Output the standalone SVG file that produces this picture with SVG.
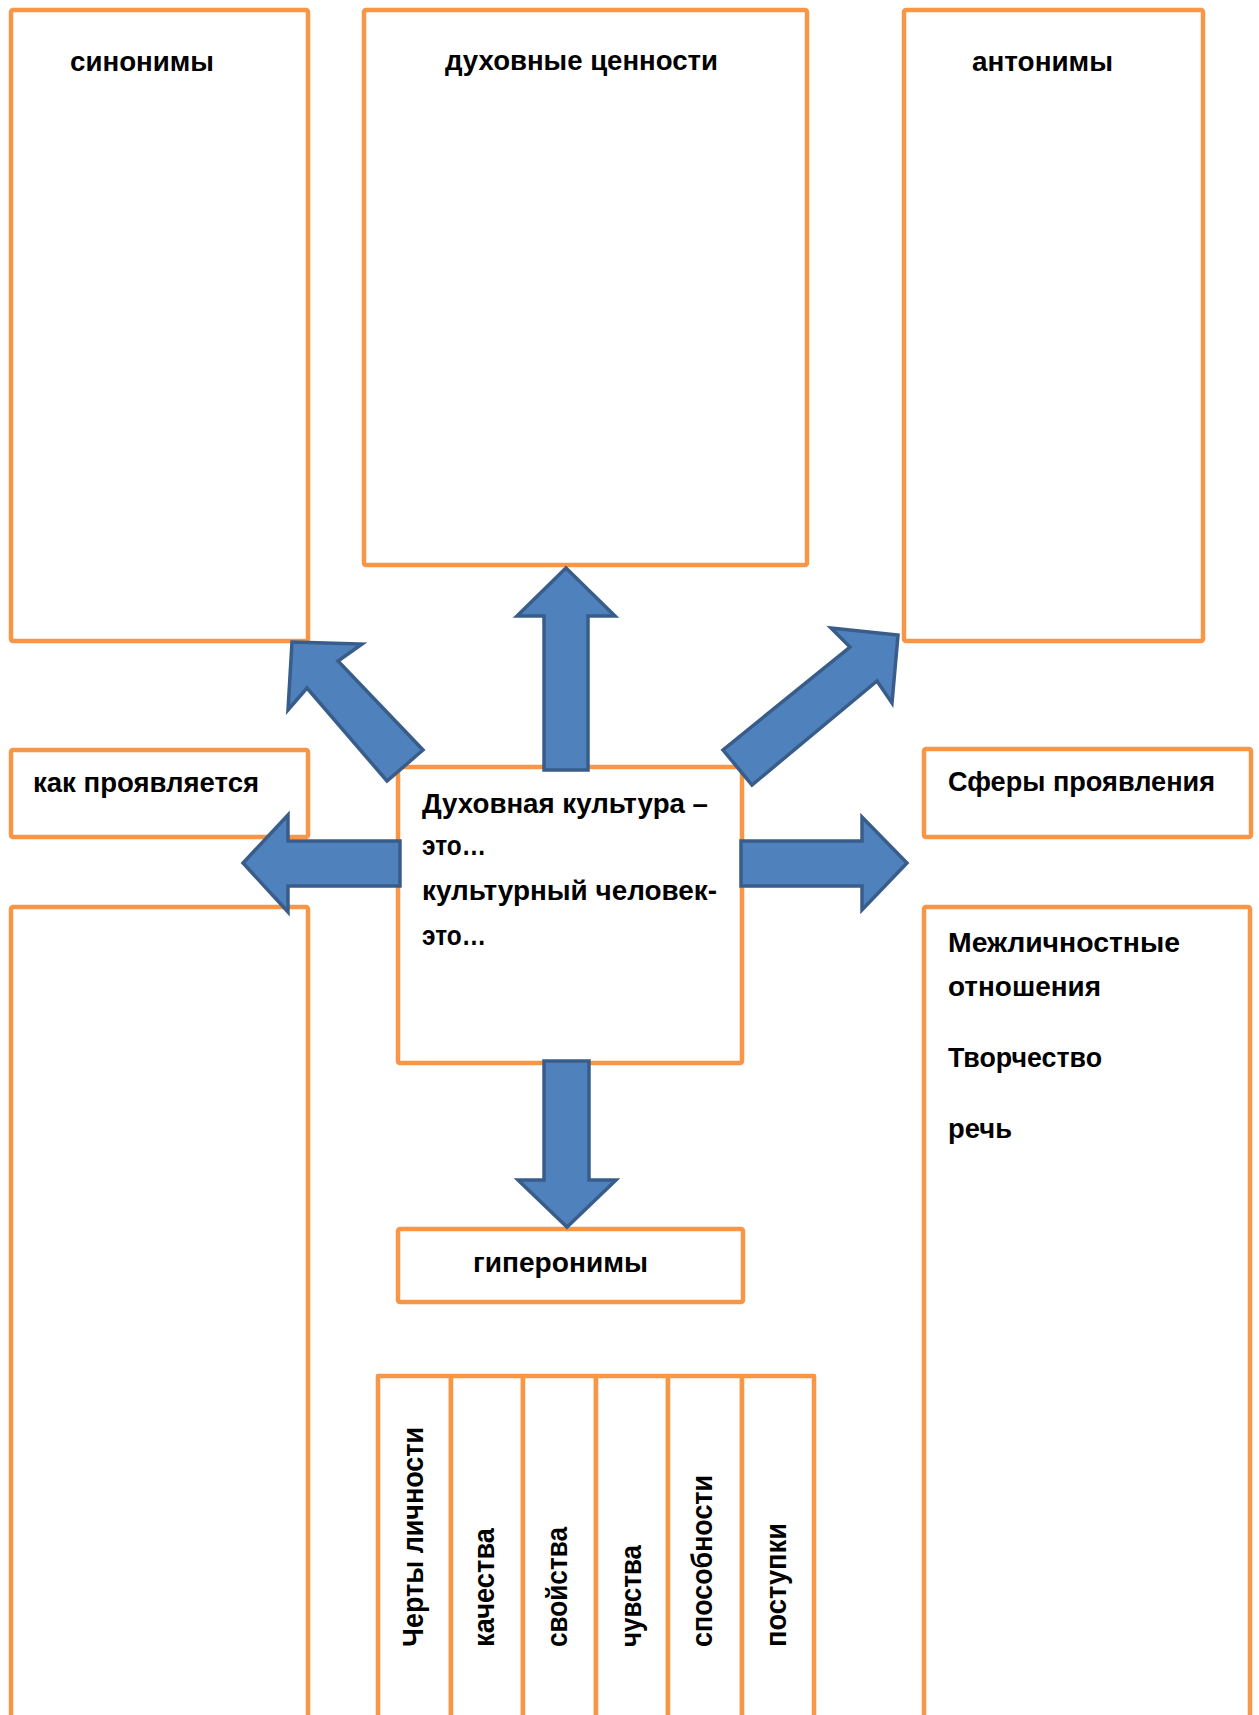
<svg xmlns="http://www.w3.org/2000/svg" width="1259" height="1715" viewBox="0 0 1259 1715">
<style>
.box{fill:#ffffff;stroke:#f79646;stroke-width:4.5;stroke-linejoin:round}
.arr{fill:#4f81bd;stroke:#385d8a;stroke-width:3.5;stroke-linejoin:miter}
.t{font-family:"Liberation Sans",Arial,sans-serif;font-weight:bold;font-size:27px;fill:#000000}
.v{font-family:"Liberation Sans",Arial,sans-serif;font-weight:bold;font-size:30px;fill:#000000}
</style>
<rect width="1259" height="1715" fill="#ffffff"/>
<g id="synonyms"><rect class="box" x="11" y="10" width="297" height="631" rx="2"/><text class="t" x="70" y="71" textLength="144" lengthAdjust="spacingAndGlyphs">синонимы</text></g>
<g id="values"><rect class="box" x="364" y="10" width="443" height="555" rx="2"/><text class="t" x="445" y="70" textLength="273" lengthAdjust="spacingAndGlyphs">духовные ценности</text></g>
<g id="antonyms"><rect class="box" x="904" y="10" width="299" height="631" rx="2"/><text class="t" x="972" y="71" textLength="141" lengthAdjust="spacingAndGlyphs">антонимы</text></g>
<g id="how"><rect class="box" x="11" y="750" width="297" height="87" rx="2"/><text class="t" x="33" y="792" textLength="226" lengthAdjust="spacingAndGlyphs">как проявляется</text></g>
<g id="spheres"><rect class="box" x="924" y="749" width="327" height="88" rx="2"/><text class="t" x="948" y="791" textLength="267" lengthAdjust="spacingAndGlyphs">Сферы проявления</text></g>
<g id="left-bottom"><rect class="box" x="11" y="907" width="297" height="830" rx="2"/></g>
<g id="right-bottom"><rect class="box" x="924" y="907" width="326" height="830" rx="2"/>
<text class="t" x="948" y="952" textLength="232" lengthAdjust="spacingAndGlyphs">Межличностные</text>
<text class="t" x="948" y="996" textLength="153" lengthAdjust="spacingAndGlyphs">отношения</text>
<text class="t" x="948" y="1067" textLength="154" lengthAdjust="spacingAndGlyphs">Творчество</text>
<text class="t" x="948" y="1138" textLength="64" lengthAdjust="spacingAndGlyphs">речь</text></g>
<g id="center"><rect class="box" x="398" y="767" width="344" height="296" rx="2"/>
<text class="t" x="422" y="813" textLength="286" lengthAdjust="spacingAndGlyphs">Духовная культура –</text>
<text class="t" x="422" y="855" textLength="64" lengthAdjust="spacingAndGlyphs">это…</text>
<text class="t" x="422" y="900" textLength="295" lengthAdjust="spacingAndGlyphs">культурный человек-</text>
<text class="t" x="422" y="945" textLength="64" lengthAdjust="spacingAndGlyphs">это…</text></g>
<g id="hyperonyms"><rect class="box" x="398" y="1229" width="345" height="73" rx="2"/><text class="t" x="473" y="1272" textLength="175" lengthAdjust="spacingAndGlyphs">гиперонимы</text></g>
<g id="columns">
<rect class="box" x="378" y="1376" width="73" height="360"/>
<rect class="box" x="451" y="1376" width="72" height="360"/>
<rect class="box" x="523" y="1376" width="73" height="360"/>
<rect class="box" x="596" y="1376" width="72" height="360"/>
<rect class="box" x="668" y="1376" width="74" height="360"/>
<rect class="box" x="742" y="1376" width="72" height="360"/>
<text class="v" transform="translate(423,1647) rotate(-90)" textLength="220" lengthAdjust="spacingAndGlyphs">Черты личности</text>
<text class="v" transform="translate(494,1647) rotate(-90)" textLength="119" lengthAdjust="spacingAndGlyphs">качества</text>
<text class="v" transform="translate(567,1647) rotate(-90)" textLength="120" lengthAdjust="spacingAndGlyphs">свойства</text>
<text class="v" transform="translate(641,1647) rotate(-90)" textLength="102" lengthAdjust="spacingAndGlyphs">чувства</text>
<text class="v" transform="translate(712,1647) rotate(-90)" textLength="172" lengthAdjust="spacingAndGlyphs">способности</text>
<text class="v" transform="translate(786,1647) rotate(-90)" textLength="124" lengthAdjust="spacingAndGlyphs">поступки</text>
</g>
<g id="connectors">
<polygon class="arr" points="566,568 615,616 588,616 588,770 544,770 544,616 517,616"/>
<polygon class="arr" points="544,1061 589,1061 589,1180 616,1180 567,1227 518,1180 544,1180"/>
<polygon class="arr" points="400,841 288,841 288,815 243,863 288,912 288,886 400,886"/>
<polygon class="arr" points="741,841 862,841 862,817 907,863 862,910 862,886 741,886"/>
<polygon class="arr" points="292,642 362,644 338,661 423,750 387,781 307,688 288,710"/>
<polygon class="arr" points="898,635 892,703 877,681 752,785 723,750 850,647 831,628"/>
</g>
</svg>
